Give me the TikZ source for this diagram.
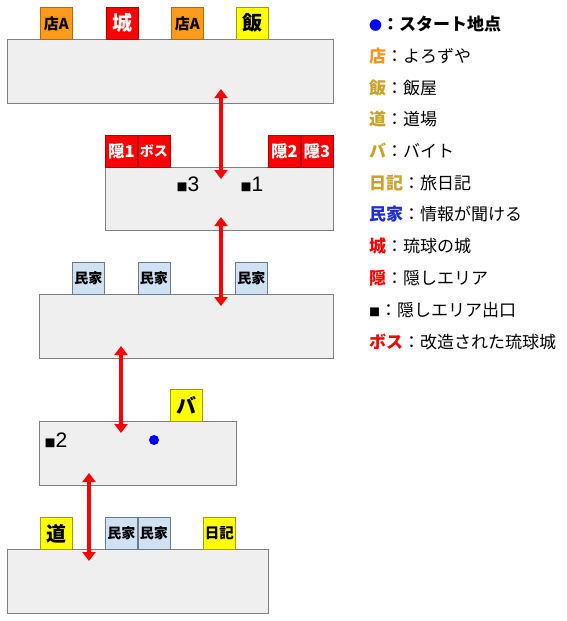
\documentclass[tikz,border=0pt]{standalone}
\usepackage{fontspec}
\setmainfont{Noto Sans CJK JP}
\newfontfamily\latinfont{Liberation Sans}
\usetikzlibrary{arrows.meta}
\definecolor{floorfill}{HTML}{EFEFEF}
\definecolor{floorline}{HTML}{808080}
\definecolor{shop}{HTML}{FF9A1A}
\definecolor{shopline}{HTML}{B06A10}
\definecolor{castle}{HTML}{FF0000}
\definecolor{castleline}{HTML}{B00000}
\definecolor{meal}{HTML}{FFFF00}
\definecolor{mealline}{HTML}{A0A000}
\definecolor{house}{HTML}{CFE2F3}
\definecolor{houseline}{HTML}{6C7A8A}
\definecolor{legshop}{HTML}{F7941D}
\definecolor{leggold}{HTML}{C9A227}
\definecolor{legblue}{HTML}{1F2FD0}
\definecolor{arrowred}{HTML}{FF0000}
\newcommand{\sqmark}{{\rmfamily\fontsize{11}{11}\selectfont ■}}
\tikzset{
  x=1pt, y=-1pt,
  floorbox/.style={draw=floorline, fill=floorfill, line width=0.8pt},
  tag/.style={draw, line width=0.6pt, minimum width=32pt, minimum height=32pt, inner sep=0pt, anchor=north west, font=\bfseries},
  shoptag/.style={tag, fill=shop, draw=shopline, font=\bfseries\fontsize{15}{15}\selectfont},
  redtag/.style={tag, fill=castle, draw=castleline, text=white},
  mealtag/.style={tag, fill=meal, draw=mealline},
  housetag/.style={tag, fill=house, draw=houseline, font=\bfseries\fontsize{14}{14}\selectfont},
  big/.style={font=\bfseries\fontsize{20}{20}\selectfont},
  exitmark/.style={font=\latinfont\fontsize{21}{21}\selectfont, inner sep=0pt},
  link/.style={draw=arrowred, line width=4pt, {Triangle[width=13pt,length=9pt]}-{Triangle[width=13pt,length=9pt]}, shorten <=-1pt, shorten >=-1pt},
  leg/.style={anchor=west, inner sep=0pt, font=\fontsize{17}{17}\selectfont},
}
\begin{document}
\begin{tikzpicture}
\useasboundingbox (0,0) rectangle (566,621);
% floor 1
\draw[floorbox] (7,39) rectangle (333,103);
\node[shoptag] (f1a) at (40,7) {店A};
\node[redtag,big] (f1b) at (106,7) {城};
\node[shoptag] (f1c) at (171,7) {店A};
\node[mealtag,big] (f1d) at (236,7) {飯};
% floor 2
\draw[floorbox] (105,167) rectangle (333,230);
\node[redtag,font=\bfseries\fontsize{16.5}{16.5}\selectfont] (f2a) at (105,135) {隠1};
\node[redtag,font=\bfseries\fontsize{14}{14}\selectfont] (f2b) at (137.5,135) {ボス};
\node[redtag,font=\bfseries\fontsize{16.5}{16.5}\selectfont] (f2c) at (268,135) {隠2};
\node[redtag,font=\bfseries\fontsize{16.5}{16.5}\selectfont] (f2d) at (300.5,135) {隠3};
\node[exitmark] (m3) at (188,184) {\sqmark 3};
\node[exitmark] (m1) at (252,184) {\sqmark 1};
% floor 3
\draw[floorbox] (39,294) rectangle (333,358);
\node[housetag] (f3a) at (72,262) {民家};
\node[housetag] (f3b) at (137.5,262) {民家};
\node[housetag] (f3c) at (235,262) {民家};
% floor 4
\draw[floorbox] (39,421) rectangle (236,485);
\node[mealtag,big] (f4a) at (170,389) {バ};
\node[exitmark] (m2) at (56,440) {\sqmark 2};
\fill[blue] (154,440) circle (5pt);
\node[inner sep=0pt] (start) at (154,440) {};
% floor 5
\draw[floorbox] (7,549) rectangle (268,613);
\node[mealtag,big] (f5a) at (40,517) {道};
\node[housetag] (f5b) at (105,517) {民家};
\node[housetag] (f5c) at (137.5,517) {民家};
\node[mealtag,font=\bfseries\fontsize{14.5}{14.5}\selectfont] (f5d) at (203,517) {日記};
% arrows
\coordinate (a1t) at (221,90);
\coordinate (a1b) at (221,178);
\coordinate (a2t) at (221,218);
\coordinate (a2b) at (221,305);
\coordinate (a3t) at (121,347);
\coordinate (a3b) at (121,432);
\coordinate (a4t) at (89,474);
\coordinate (a4b) at (89,560);
\draw[link] (a1t) -- (a1b);
\draw[link] (a2t) -- (a2b);
\draw[link] (a3t) -- (a3b);
\draw[link] (a4t) -- (a4b);
% legend
\node[leg] (l1) at (369,24) {\textcolor{blue}{\fontsize{13}{13}\selectfont ●}\textbf{：スタート地点}};
\node[leg] (l2) at (369,56) {\textcolor{legshop}{\textbf{店}}：よろずや};
\node[leg] (l3) at (369,88) {\textcolor{leggold}{\textbf{飯}}：飯屋};
\node[leg] (l4) at (369,119) {\textcolor{leggold}{\textbf{道}}：道場};
\node[leg] (l5) at (369,151) {\textcolor{leggold}{\textbf{バ}}：バイト};
\node[leg] (l6) at (369,183) {\textcolor{leggold}{\textbf{日記}}：旅日記};
\node[leg] (l7) at (369,214) {\textcolor{legblue}{\textbf{民家}}：情報が聞ける};
\node[leg] (l8) at (369,246) {\textcolor{red}{\textbf{城}}：琉球の城};
\node[leg] (l9) at (369,278) {\textcolor{red}{\textbf{隠}}：隠しエリア};
\node[leg] (l10) at (369,310) {\sqmark：隠しエリア出口};
\node[leg] (l11) at (369,342) {\textcolor{red}{\textbf{ボス}}：改造された琉球城};
\end{tikzpicture}
\end{document}
